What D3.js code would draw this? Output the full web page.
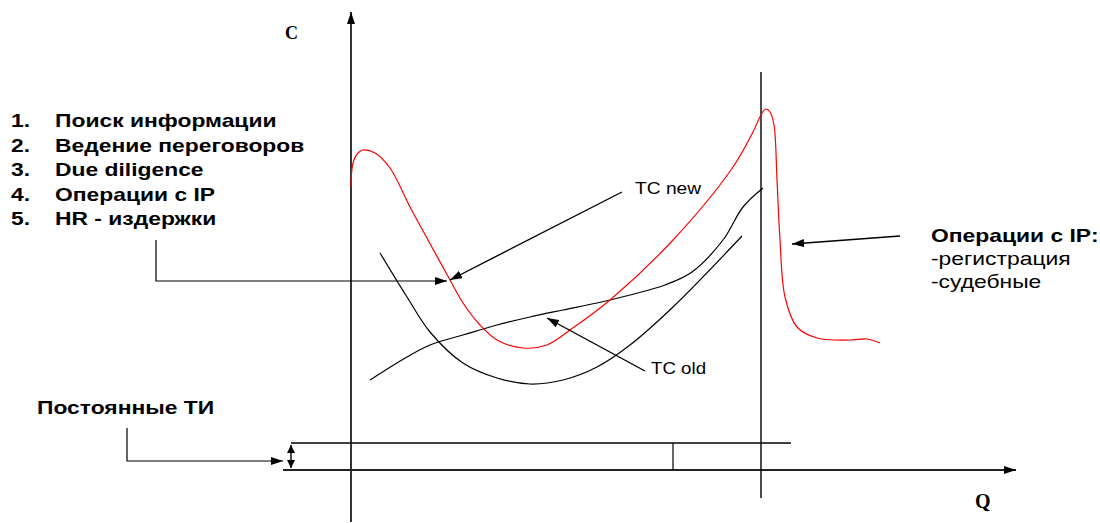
<!DOCTYPE html>
<html>
<head>
<meta charset="utf-8">
<script src="https://cdn.jsdelivr.net/npm/d3@7"></script>
<style>
html,body{margin:0;padding:0;background:#fff;}
svg{display:block;}
</style>
</head>
<body>
<svg id="chart" width="1100" height="523"></svg>
<script>
// ---- Data (Q, C units) ----
const tcNew = [[0,56.6],[0.4,61.4],[1.4,63.4],[2.4,64],[4.8,63.4],[7.8,60.4],[11.8,52.6],[15.4,46],[19.8,38],[22.4,33.4],[25.8,29],[29.2,26],[34.4,24.4],[39.2,25],[43.8,28],[51.8,34],[64.4,46],[76.4,60.6],[80.4,67.6],[82.2,71.4],[83,72.2],[83.8,71.6],[84.6,69],[85.2,58],[85.8,46],[86.8,34.6],[89.2,28.6],[93.2,26.4],[99.8,26],[103.2,26.2],[105.8,25.4]];
const tcOldU = [[5.8,43.4],[11.2,34.6],[15.8,27.6],[22.4,21.4],[29.2,18.4],[35.8,17.2],[42.4,18],[49.2,20.6],[55.8,25],[64.4,32.6],[78.2,46.8]];
const tcOldS = [[3.8,18],[11.2,22.6],[15.8,25],[22.4,27],[29.2,29],[35.8,30.6],[42.4,32],[49.2,33.4],[55.8,35],[62.8,37],[68.2,39.6],[74.4,46],[78.4,52.6],[82.4,56.4]];
const fixedCostLevel = 5.4;
const fixedCostRange = [-12, 88];
const capacityQ = 82;
const midQ = 64.4;
const listItems = ["Поиск информации","Ведение переговоров","Due diligence","Операции с IP","HR - издержки"];
const ipTitle = "Операции с IP:";
const ipItems = ["-регистрация","-судебные"];

const svg = d3.select("#chart");
const x = d3.scaleLinear().domain([0,133]).range([351,1016]);
const y = d3.scaleLinear().domain([0,91.2]).range([470,14]);

const defs = svg.append("defs");
defs.append("marker").attr("id","ah").attr("viewBox","0 0 12 8").attr("refX",12).attr("refY",4)
  .attr("markerWidth",12).attr("markerHeight",8).attr("markerUnits","userSpaceOnUse").attr("orient","auto-start-reverse")
  .append("path").attr("d","M0,0 L12,4 L0,8 Z").attr("fill","#000");
defs.append("marker").attr("id","ahs").attr("viewBox","0 0 8 8").attr("refX",8).attr("refY",4)
  .attr("markerWidth",8).attr("markerHeight",8).attr("markerUnits","userSpaceOnUse").attr("orient","auto-start-reverse")
  .append("path").attr("d","M0,0 L8,4 L0,8 Z").attr("fill","#000");

const line = d3.line().x(d=>x(d[0])).y(d=>y(d[1]));
const curve = d3.line().x(d=>x(d[0])).y(d=>y(d[1])).curve(d3.curveCatmullRom.alpha(0.5));

function seg(pts, opts={}){
  const p = svg.append("path").attr("d", line(pts)).attr("fill","none")
    .attr("stroke", opts.color||"#000").attr("stroke-width", opts.w||1.3);
  if(opts.end) p.attr("marker-end","url(#"+opts.end+")");
  if(opts.start) p.attr("marker-start","url(#"+opts.start+")");
  return p;
}

// axes
seg([[0,-10.4],[0,91.6]],{w:1.6,end:"ah"});
seg([[-13.6,0],[133,0]],{w:2,color:"#222",end:"ah"});
// capacity vertical line
seg([[capacityQ,-5.6],[capacityQ,79.6]],{w:1.4});
// fixed costs
seg([[fixedCostRange[0],fixedCostLevel],[fixedCostRange[1],fixedCostLevel]],{w:1.4});
seg([[midQ,0],[midQ,fixedCostLevel]],{w:1.2});
seg([[fixedCostRange[0],0.4],[fixedCostRange[0],fixedCostLevel-0.4]],{w:1.4,start:"ahs",end:"ahs"});

// curves
svg.append("path").attr("d",curve(tcOldU)).attr("fill","none").attr("stroke","#000").attr("stroke-width",1.2);
svg.append("path").attr("d",curve(tcOldS)).attr("fill","none").attr("stroke","#000").attr("stroke-width",1.2);
svg.append("path").attr("d",curve(tcNew)).attr("fill","none").attr("stroke","#ff0000").attr("stroke-width",1.2);

// annotation arrows
seg([[-44.8,8.4],[-44.8,1.8],[-13.6,1.8]],{w:1.2,end:"ah"});
seg([[-39,46],[-39,37.8],[19.2,37.8]],{w:1.2,end:"ah"});
seg([[54.2,55.6],[19.8,38]],{w:1.4,end:"ah"});
seg([[58.8,19.8],[39.2,30.4]],{w:1.4,end:"ah"});
seg([[109.8,46.8],[88.2,45.2]],{w:1.4,end:"ah"});

// texts
const sans = "Liberation Sans, Arial, sans-serif";
const serif = "Liberation Serif, Times New Roman, serif";
function label(px, py, t, size, bold, sx, family){
  svg.append("text").attr("transform",`translate(${px},${py}) scale(${sx},1)`)
    .text(t).attr("font-family",family||sans).attr("font-weight",bold?"bold":"normal").attr("font-size",size).attr("fill","#000");
}
label(285,39,"C",18,true,1,serif);
label(975,508,"Q",20,true,1,serif);

listItems.forEach((t,i)=>{
  label(11,127+i*24.5,(i+1)+".",18,true,1.27);
  label(55,127+i*24.5,t,18,true,1.27);
});
label(37,414,"Постоянные ТИ",18,true,1.27);
label(635,194,"TC new",17,false,1.13);
label(651,374,"TC old",17,false,1.1);
label(931,242,ipTitle,18,true,1.27);
ipItems.forEach((t,i)=>{
  label(931,265+i*23,t,18,false,1.27);
});
</script>
</body>
</html>
